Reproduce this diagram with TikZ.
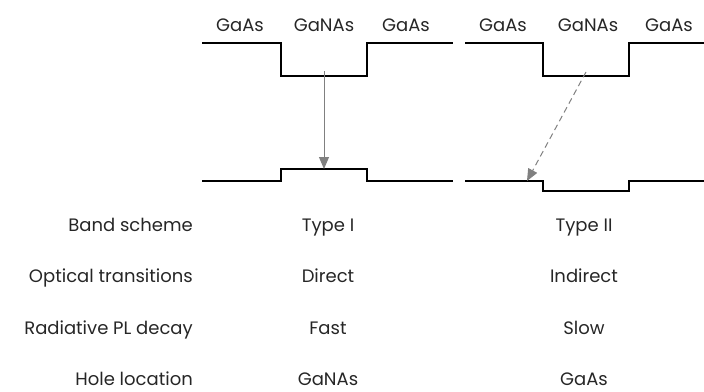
\documentclass[tikz,border=0pt]{standalone}
\usepackage{fontspec}
\setmainfont{Poppins}
\usetikzlibrary{positioning}
\usetikzlibrary{arrows.meta,calc}

\begin{document}
\begin{tikzpicture}[x=1pt, y=-1pt,
  band/.style={line width=1.1pt},
  trans/.style={gray, line width=1pt, -{Triangle[length=12pt,width=10pt]}},
  lbl/.style={font=\fontsize{18}{20}\selectfont, text=black!85, inner sep=0pt, anchor=base},
]
\useasboundingbox (0,0) rectangle (704,391);
%\draw[red] (0,0) rectangle (704,391);
% type I band scheme
\draw[band] (202,43) -- (281,43) -- (281,76) -- (367,76) -- (367,43) -- (453,43);
\draw[band] (202,181) -- (281,181) -- (281,169) -- (367,169) -- (367,181) -- (453,181);
% type II band scheme
\draw[band] (465,43) -- (543,43) -- (543,76) -- (629,76) -- (629,43) -- (704,43);
\draw[band] (465,181) -- (543,181) -- (543,191) -- (629,191) -- (629,181) -- (704,181);
% layer names
\node[lbl] (L1) at (240,31) {GaAs};
\node[lbl] (L2) at (324,31) {GaNAs};
\node[lbl] (L3) at (406,31) {GaAs};
\node[lbl] (R1) at (503,31) {GaAs};
\node[lbl] (R2) at (588,31) {GaNAs};
\node[lbl] (R3) at (669,31) {GaAs};
% transitions
\coordinate (eI) at (324,71);
\coordinate (hI) at (324,169);
\coordinate (eII) at (586,72);
\coordinate (hII) at (527,181);
\draw[trans] (eI) -- (hI);
\draw[trans, dash pattern=on 6pt off 4pt] (eII) -- (hII);
% table
\node[lbl, anchor=base east] (band) at (193,231) {Band scheme};
\node[lbl, anchor=base east] (opt) at (193,282) {Optical transitions};
\node[lbl, anchor=base east] (pl) at (193,334) {Radiative PL decay};
\node[lbl, anchor=base east] (hole) at (193,385) {Hole location};
\node[lbl] (bandI) at (328,231) {Type I};
\node[lbl] (optI) at (328,282) {Direct};
\node[lbl] (plI) at (328,334) {Fast};
\node[lbl] (holeI) at (328,385) {GaNAs};
\node[lbl] (bandII) at (584,231) {Type II};
\node[lbl] (optII) at (584,282) {Indirect};
\node[lbl] (plII) at (584,334) {Slow};
\node[lbl] (holeII) at (584,385) {GaAs};
\end{tikzpicture}
\end{document}
